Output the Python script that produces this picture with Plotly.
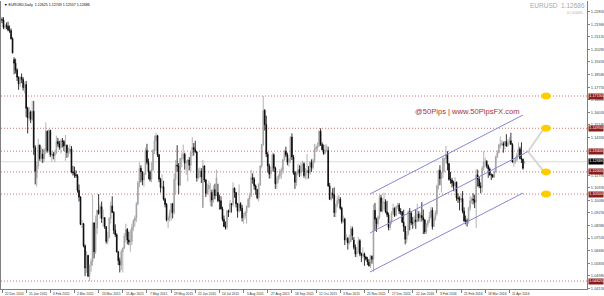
import pandas as pd
import plotly.graph_objects as go

# ---------------- data (EURUSD daily, O,H,L,C per bar) ----------------
DEC14 = [(1.2230,1.2245,1.2205,1.2226),(1.2226,1.2245,1.2165,1.2176),(1.2176,1.2200,1.2160,1.2190),
         (1.2190,1.2210,1.2165,1.2185),(1.2185,1.2215,1.2150,1.2160),(1.2160,1.2190,1.2140,1.2155),
         (1.2155,1.2170,1.2095,1.2100)]
JAN15 = [(1.2100,1.2110,1.2000,1.2005),(1.1960,1.1975,1.1860,1.1935),(1.1935,1.1965,1.1865,1.1890),
         (1.1890,1.1900,1.1815,1.1840),(1.1840,1.1845,1.1755,1.1795),(1.1795,1.1845,1.1775,1.1840),
         (1.1840,1.1865,1.1800,1.1825),(1.1825,1.1840,1.1750,1.1770),(1.1770,1.1810,1.1730,1.1790),
         (1.1790,1.1815,1.1570,1.1630),(1.1630,1.1640,1.1460,1.1565),(1.1565,1.1640,1.1545,1.1605),
         (1.1605,1.1615,1.1530,1.1555),(1.1555,1.1680,1.1545,1.1610),(1.1610,1.1680,1.1315,1.1365),
         (1.1365,1.1380,1.1115,1.1205),(1.1160,1.1270,1.1100,1.1240),(1.1240,1.1425,1.1220,1.1380),
         (1.1380,1.1385,1.1275,1.1290),(1.1290,1.1370,1.1265,1.1320),(1.1320,1.1355,1.1260,1.1290)]
FEB15 = [(1.1290,1.1360,1.1270,1.1345),(1.1345,1.1535,1.1320,1.1475),(1.1475,1.1480,1.1330,1.1345),
         (1.1345,1.1490,1.1330,1.1480),(1.1480,1.1485,1.1300,1.1315),(1.1315,1.1345,1.1270,1.1320),
         (1.1320,1.1335,1.1285,1.1310),(1.1310,1.1350,1.1265,1.1330),(1.1330,1.1445,1.1320,1.1405),
         (1.1405,1.1430,1.1370,1.1390),(1.1390,1.1410,1.1350,1.1365),(1.1365,1.1420,1.1325,1.1410),
         (1.1410,1.1430,1.1365,1.1405),(1.1405,1.1415,1.1340,1.1375),(1.1375,1.1450,1.1275,1.1380),
         (1.1380,1.1385,1.1295,1.1330),(1.1330,1.1365,1.1300,1.1340),(1.1340,1.1385,1.1320,1.1355),
         (1.1355,1.1375,1.1190,1.1200),(1.1200,1.1240,1.1175,1.1195)]
MAR15 = [(1.1195,1.1235,1.1160,1.1180),(1.1180,1.1210,1.1160,1.1175),(1.1175,1.1185,1.1060,1.1075),
         (1.1075,1.1115,1.1000,1.1030),(1.1030,1.1035,1.0840,1.0845),(1.0845,1.0875,1.0820,1.0850),
         (1.0850,1.0855,1.0690,1.0700),(1.0700,1.0710,1.0495,1.0550),(1.0550,1.0665,1.0515,1.0635),
         (1.0635,1.0640,1.0490,1.0495),(1.0495,1.0570,1.0462,1.0570),(1.0570,1.0615,1.0525,1.0595),
         (1.0595,1.1045,1.0565,1.0855),(1.0855,1.0860,1.0615,1.0660),(1.0660,1.0905,1.0645,1.0820),
         (1.0820,1.0945,1.0780,1.0940),(1.0940,1.1050,1.0910,1.0920),(1.0920,1.0985,1.0885,1.0965),
         (1.0965,1.1000,1.0855,1.0885),(1.0885,1.0945,1.0830,1.0890),(1.0890,1.0895,1.0815,1.0830),
         (1.0830,1.0830,1.0715,1.0730)]
APR15 = [(1.0730,1.0795,1.0710,1.0760),(1.0760,1.0895,1.0750,1.0885),(1.0885,1.1000,1.0850,1.0970),
         (1.0970,1.1035,1.0925,1.0925),(1.0925,1.0935,1.0780,1.0805),(1.0805,1.0845,1.0760,1.0775),
         (1.0775,1.0785,1.0655,1.0660),(1.0660,1.0665,1.0570,1.0600),(1.0600,1.0620,1.0520,1.0570),
         (1.0570,1.0675,1.0535,1.0660),(1.0660,1.0690,1.0520,1.0685),(1.0685,1.0785,1.0680,1.0765),
         (1.0765,1.0850,1.0725,1.0810),(1.0810,1.0820,1.0710,1.0740),(1.0740,1.0795,1.0705,1.0725),
         (1.0725,1.0810,1.0660,1.0730),(1.0730,1.0850,1.0705,1.0825),(1.0825,1.0880,1.0800,1.0870),
         (1.0870,1.0905,1.0830,1.0890),(1.0890,1.0995,1.0860,1.0985),(1.0985,1.1140,1.0975,1.1125),
         (1.1125,1.1265,1.1095,1.1225)]
MAY15 = [(1.1225,1.1245,1.1130,1.1200),(1.1200,1.1205,1.1110,1.1145),(1.1145,1.1200,1.1100,1.1185),
         (1.1185,1.1365,1.1180,1.1345),(1.1345,1.1390,1.1250,1.1265),(1.1265,1.1290,1.1150,1.1200),
         (1.1200,1.1210,1.1135,1.1150),(1.1150,1.1265,1.1130,1.1215),(1.1215,1.1355,1.1205,1.1345),
         (1.1345,1.1445,1.1320,1.1410),(1.1410,1.1465,1.1340,1.1445),(1.1445,1.1450,1.1300,1.1315),
         (1.1315,1.1320,1.1130,1.1150),(1.1150,1.1160,1.1060,1.1095),(1.1095,1.1185,1.1085,1.1100),
         (1.1100,1.1140,1.1005,1.1015),(1.1015,1.1025,1.0960,1.0980),(1.0980,1.0990,1.0865,1.0875),
         (1.0875,1.0905,1.0820,1.0890),(1.0890,1.0945,1.0865,1.0920),(1.0920,1.0985,1.0870,1.0985)]
JUN15 = [(1.0985,1.0990,1.0885,1.0925),(1.0925,1.1190,1.0910,1.1150),(1.1150,1.1280,1.1050,1.1245),
         (1.1245,1.1380,1.1200,1.1240),(1.1240,1.1260,1.1050,1.1110),(1.1110,1.1295,1.1105,1.1290),
         (1.1290,1.1330,1.1230,1.1290),(1.1290,1.1385,1.1275,1.1320),(1.1320,1.1330,1.1215,1.1260),
         (1.1260,1.1280,1.1180,1.1265),(1.1265,1.1285,1.1135,1.1280),(1.1280,1.1300,1.1210,1.1245),
         (1.1245,1.1335,1.1205,1.1330),(1.1330,1.1435,1.1305,1.1365),(1.1365,1.1395,1.1310,1.1350),
         (1.1350,1.1410,1.1330,1.1335),(1.1335,1.1340,1.1135,1.1160),(1.1160,1.1225,1.1150,1.1200),
         (1.1200,1.1230,1.1160,1.1205),(1.1205,1.1225,1.1125,1.1165),(1.0960,1.1280,1.0955,1.1240),
         (1.1240,1.1245,1.1130,1.1145)]
JUL15 = [(1.1145,1.1150,1.1030,1.1055),(1.1055,1.1120,1.1045,1.1085),(1.1085,1.1140,1.1060,1.1110),
         (1.1000,1.1125,1.0970,1.1060),(1.1060,1.1080,1.0965,1.1010),(1.1010,1.1110,1.0990,1.1080),
         (1.1080,1.1120,1.1015,1.1040),(1.1040,1.1215,1.1035,1.1160),(1.1060,1.1120,1.0995,1.1005),
         (1.1005,1.1045,1.0945,1.1005),(1.1005,1.1035,1.0945,1.0950),(1.0950,1.0965,1.0865,1.0880),
         (1.0880,1.0905,1.0830,1.0830),(1.0830,1.0865,1.0810,1.0825),(1.0825,1.0945,1.0810,1.0935),
         (1.0935,1.0945,1.0895,1.0930),(1.0930,1.1010,1.0920,1.0985),(1.0985,1.0990,1.0925,1.0980),
         (1.0980,1.1130,1.0965,1.1090),(1.1090,1.1095,1.1025,1.1060),(1.1060,1.1065,1.0960,1.0985),
         (1.0985,1.0990,1.0890,1.0935),(1.0935,1.1115,1.0925,1.0985)]
AUG15 = [(1.0985,1.0995,1.0935,1.0955),(1.0955,1.0975,1.0865,1.0890),(1.0890,1.0925,1.0850,1.0905),
         (1.0905,1.0935,1.0880,1.0925),(1.0925,1.0975,1.0850,1.0965),(1.0965,1.1025,1.0955,1.1015),
         (1.1015,1.1060,1.0960,1.1040),(1.1040,1.1215,1.1030,1.1160),(1.1160,1.1190,1.1120,1.1150),
         (1.1150,1.1165,1.1080,1.1105),(1.1105,1.1115,1.1045,1.1080),(1.1080,1.1085,1.1015,1.1025),
         (1.1025,1.1125,1.1000,1.1115),(1.1115,1.1245,1.1105,1.1240),(1.1240,1.1390,1.1225,1.1385),
         (1.1385,1.1713,1.1375,1.1615),(1.1615,1.1625,1.1480,1.1520),(1.1520,1.1580,1.1300,1.1320),
         (1.1320,1.1335,1.1195,1.1240),(1.1240,1.1255,1.1155,1.1185),(1.1185,1.1235,1.1155,1.1210)]
SEP15 = [(1.1210,1.1330,1.1200,1.1315),(1.1315,1.1325,1.1200,1.1225),(1.1225,1.1235,1.1085,1.1120),
         (1.1120,1.1170,1.1085,1.1150),(1.1150,1.1185,1.1125,1.1170),(1.1170,1.1220,1.1150,1.1205),
         (1.1205,1.1230,1.1155,1.1210),(1.1210,1.1290,1.1185,1.1280),(1.1280,1.1350,1.1275,1.1340),
         (1.1340,1.1370,1.1300,1.1315),(1.1315,1.1330,1.1245,1.1265),(1.1265,1.1295,1.1235,1.1285),
         (1.1285,1.1440,1.1260,1.1435),(1.1435,1.1460,1.1280,1.1300),(1.1300,1.1315,1.1180,1.1195),
         (1.1195,1.1205,1.1085,1.1130),(1.1130,1.1205,1.1105,1.1185),(1.1185,1.1255,1.1175,1.1215),
         (1.1215,1.1245,1.1165,1.1195),(1.1195,1.1265,1.1170,1.1240),(1.1240,1.1275,1.1200,1.1255),
         (1.1255,1.1265,1.1160,1.1175)]
OCT15 = [(1.1175,1.1225,1.1150,1.1195),(1.1195,1.1320,1.1150,1.1210),(1.1210,1.1240,1.1155,1.1195),
         (1.1195,1.1275,1.1180,1.1265),(1.1265,1.1285,1.1200,1.1230),(1.1230,1.1290,1.1215,1.1275),
         (1.1275,1.1390,1.1260,1.1355),(1.1355,1.1385,1.1335,1.1365),(1.1365,1.1400,1.1340,1.1375),
         (1.1375,1.1480,1.1370,1.1475),(1.1475,1.1495,1.1375,1.1385),(1.1385,1.1400,1.1345,1.1350),
         (1.1350,1.1385,1.1315,1.1325),(1.1325,1.1385,1.1320,1.1345),(1.1345,1.1385,1.1335,1.1345),
         (1.1345,1.1370,1.1100,1.1105),(1.1105,1.1125,1.1010,1.1015),(1.1015,1.1065,1.1005,1.1055),
         (1.1055,1.1090,1.1020,1.1045),(1.1045,1.1095,1.0895,1.0925),(1.0925,1.0985,1.0895,1.0975),
         (1.0975,1.1035,1.0960,1.1005)]
NOV15 = [(1.1005,1.1045,1.0985,1.1015),(1.1015,1.1030,1.0945,1.0955),(1.0955,1.0965,1.0850,1.0865),
         (1.0865,1.0905,1.0855,1.0880),(1.0880,1.0890,1.0705,1.0740),(1.0740,1.0780,1.0725,1.0750),
         (1.0750,1.0760,1.0675,1.0720),(1.0720,1.0775,1.0710,1.0730),(1.0730,1.0835,1.0725,1.0815),
         (1.0815,1.0830,1.0740,1.0770),(1.0740,1.0760,1.0675,1.0690),(1.0690,1.0710,1.0625,1.0645),
         (1.0645,1.0690,1.0620,1.0660),(1.0660,1.0760,1.0650,1.0735),(1.0735,1.0745,1.0630,1.0645),
         (1.0645,1.0655,1.0590,1.0635),(1.0635,1.0690,1.0615,1.0645),(1.0645,1.0655,1.0565,1.0625),
         (1.0625,1.0630,1.0600,1.0610),(1.0610,1.0625,1.0570,1.0590),(1.0590,1.0610,1.0560,1.0565)]
DEC15 = [(1.0565,1.0640,1.0550,1.0630),(1.0630,1.0635,1.0580,1.0610),(1.0610,1.0980,1.0525,1.0940),
         (1.0940,1.0990,1.0800,1.0880),(1.0880,1.0890,1.0795,1.0850),(1.0850,1.0905,1.0825,1.0895),
         (1.0895,1.1045,1.0880,1.1025),(1.1025,1.1045,1.0930,1.0935),(1.0935,1.1025,1.0925,1.0990),
         (1.0990,1.1060,1.0945,1.0995),(1.0995,1.1015,1.0920,1.0930),(1.0930,1.1005,1.0895,1.0910),
         (1.0910,1.0925,1.0805,1.0825),(1.0825,1.0875,1.0805,1.0865),(1.0865,1.0935,1.0845,1.0920),
         (1.0920,1.0985,1.0910,1.0955),(1.0955,1.0960,1.0895,1.0905),(1.0905,1.0970,1.0900,1.0965),
         (1.0965,1.0990,1.0950,1.0975),(1.0975,1.0990,1.0915,1.0935),(1.0935,1.0955,1.0910,1.0930),
         (1.0930,1.0935,1.0855,1.0860)]
JAN16 = [(1.0860,1.0945,1.0795,1.0830),(1.0830,1.0835,1.0710,1.0745),(1.0745,1.0800,1.0720,1.0780),
         (1.0780,1.0940,1.0770,1.0930),(1.0930,1.0955,1.0805,1.0920),(1.0920,1.0935,1.0840,1.0855),
         (1.0855,1.0895,1.0815,1.0855),(1.0855,1.0905,1.0835,1.0875),(1.0875,1.0945,1.0815,1.0865),
         (1.0865,1.0985,1.0860,1.0915),(1.0915,1.0935,1.0865,1.0890),(1.0890,1.0925,1.0860,1.0905),
         (1.0905,1.0995,1.0865,1.0890),(1.0890,1.0945,1.0780,1.0875),(1.0875,1.0880,1.0780,1.0795),
         (1.0795,1.0855,1.0780,1.0845),(1.0845,1.0875,1.0825,1.0870),(1.0870,1.0930,1.0855,1.0895),
         (1.0895,1.0965,1.0885,1.0940),(1.0940,1.0960,1.0810,1.0830)]
FEB16 = [(1.0830,1.0905,1.0830,1.0885),(1.0885,1.0940,1.0870,1.0920),(1.0920,1.1115,1.0905,1.1105),
         (1.1105,1.1215,1.1080,1.1210),(1.1210,1.1245,1.1110,1.1155),(1.1155,1.1200,1.1060,1.1195),
         (1.1195,1.1305,1.1160,1.1290),(1.1290,1.1295,1.1200,1.1290),(1.1290,1.1376,1.1260,1.1320),
         (1.1320,1.1340,1.1210,1.1255),(1.1255,1.1260,1.1140,1.1150),(1.1150,1.1200,1.1120,1.1145),
         (1.1145,1.1160,1.1095,1.1125),(1.1125,1.1140,1.1070,1.1105),(1.1105,1.1165,1.1065,1.1130),
         (1.1130,1.1135,1.1005,1.1025),(1.1025,1.1055,1.0990,1.1020),(1.1020,1.1035,1.0940,1.1010),
         (1.1010,1.1050,1.0995,1.1020),(1.1020,1.1070,1.0920,1.0935),(1.0935,1.0960,1.0860,1.0870)]
MAR16 = [(1.0870,1.0905,1.0845,1.0870),(1.0870,1.0885,1.0830,1.0865),(1.0865,1.0965,1.0850,1.0955),
         (1.0955,1.1040,1.0935,1.1005),(1.1005,1.1030,1.0985,1.1015),(1.1015,1.1055,1.0980,1.1010),
         (1.1010,1.1045,1.0955,1.0995),(1.0995,1.1220,1.0822,1.1180),(1.1180,1.1215,1.1100,1.1150),
         (1.1150,1.1170,1.1090,1.1105),(1.1105,1.1130,1.1055,1.1095),(1.1095,1.1240,1.1060,1.1225),
         (1.1225,1.1340,1.1210,1.1265),(1.1265,1.1295,1.1235,1.1270),(1.1270,1.1280,1.1225,1.1240),
         (1.1240,1.1250,1.1160,1.1220),(1.1220,1.1230,1.1175,1.1180),(1.1180,1.1190,1.1145,1.1180),
         (1.1180,1.1185,1.1160,1.1165),(1.1165,1.1210,1.1160,1.1200),(1.1200,1.1310,1.1195,1.1300),
         (1.1300,1.1345,1.1295,1.1330),(1.1330,1.1390,1.1325,1.1380)]
APR16 = [(1.1380,1.1440,1.1360,1.1390),(1.1390,1.1415,1.1375,1.1390),(1.1390,1.1405,1.1330,1.1380),
         (1.1380,1.1410,1.1350,1.1405),(1.1405,1.1455,1.1370,1.1375),(1.1375,1.1420,1.1370,1.1395),
         (1.1395,1.1435,1.1385,1.1410),(1.1410,1.1465,1.1385,1.1385),(1.1385,1.1395,1.1265,1.1265),
         (1.1265,1.1290,1.1235,1.1270),(1.1270,1.1300,1.1255,1.1285),(1.1285,1.1330,1.1270,1.1315),
         (1.1315,1.1400,1.1305,1.1355),(1.1355,1.1370,1.1285,1.1290),(1.1290,1.1400,1.1260,1.1285),
         (1.1285,1.1290,1.1215,1.1225),(1.12625,1.12749,1.12557,1.12686)]

HOLIDAYS = ["2014-12-25", "2015-01-01", "2015-12-25", "2016-01-01"]
FIRST_DAY, LAST_DAY = "2014-12-22", "2016-04-25"

# horizontal levels drawn on the chart
LEVELS = [1.17130, 1.14950, 1.13400, 1.12000, 1.10500, 1.04620]
MARKED_LEVELS = [1.17130, 1.14950, 1.12000, 1.10500]
BID = 1.12686
# price-scale labels visible in the reference (ones hidden under level labels omitted)
Y_TICKS = [1.22830, 1.21980, 1.21130, 1.20280, 1.19430, 1.18580, 1.17730, 1.16880,
           1.16030, 1.15180, 1.14330, 1.11780, 1.10930, 1.10080,
           1.09230, 1.08380, 1.07530, 1.06680, 1.05830, 1.04980, 1.04130]
# trend channel (bar position, price)
CH_UPPER = [(243.7, 1.10505), (345.0, 1.15846)]
CH_MIDDLE = [(243.7, 1.07869), (348.3, 1.13378)]
CH_LOWER = [(243.7, 1.05232), (345.0, 1.10573)]
PROJ_FROM = (348.3, 1.13378)
PROJ_TO = [(359.0, 1.14950), (359.0, 1.12000)]
MARK_BAR = 360.3

HEADER = "\u25bc EURUSD,Daily  1.12625 1.12749 1.12557 1.12686"
SYMBOL = "EURUSD  1.12686"
CHANGE = "0 | 0.00%"
WATERMARK = "@50Pips | www.50PipsFX.com"

# ---------------- build ----------------
bars = DEC14 + JAN15 + FEB15 + MAR15 + APR15 + MAY15 + JUN15 + JUL15 + AUG15 + SEP15 + \
       OCT15 + NOV15 + DEC15 + JAN16 + FEB16 + MAR16 + APR16
days = [d for d in pd.bdate_range(FIRST_DAY, LAST_DAY) if d.strftime("%Y-%m-%d") not in HOLIDAYS]
days = days[:len(bars)]
dates = [f"{d.day} {d.strftime('%b %Y')}" for d in days]
n = min(len(dates), len(bars))
dates, bars = dates[:n], bars[:n]
o = [b[0] for b in bars]; h = [b[1] for b in bars]; l = [b[2] for b in bars]; c = [b[3] for b in bars]

FONT = "Liberation Sans, Arial, sans-serif"
fig = go.Figure()
fig.add_trace(go.Candlestick(
    x=dates, open=o, high=h, low=l, close=c, whiskerwidth=0,
    increasing=dict(line=dict(color="#a0a0a0", width=0.8), fillcolor="#a0a0a0"),
    decreasing=dict(line=dict(color="#000000", width=0.8), fillcolor="#000000"),
    showlegend=False, hoverinfo="skip"))

shapes = []
for v in LEVELS:
    shapes.append(dict(type="line", xref="paper", yref="y", x0=0, x1=1, y0=v, y1=v,
                       line=dict(color="#cc7070", width=1, dash="1px,2px"), layer="below"))
shapes.append(dict(type="line", xref="paper", yref="y", x0=0, x1=1, y0=BID, y1=BID,
                   line=dict(color="#dadada", width=1), layer="below"))
for seg in (CH_UPPER, CH_MIDDLE, CH_LOWER):
    shapes.append(dict(type="line", xref="x", yref="y", x0=seg[0][0], y0=seg[0][1],
                       x1=seg[1][0], y1=seg[1][1], line=dict(color="#8585dc", width=1)))
for end in PROJ_TO:
    shapes.append(dict(type="line", xref="x", yref="y", x0=PROJ_FROM[0], y0=PROJ_FROM[1],
                       x1=end[0], y1=end[1], line=dict(color="#d6d6d6", width=2)))
for v in MARKED_LEVELS:
    shapes.append(dict(type="circle", xref="x", yref="y", xsizemode="pixel", ysizemode="pixel",
                       xanchor=MARK_BAR, yanchor=v, x0=-5, x1=5, y0=-3.5, y1=3.5,
                       fillcolor="#ffcc00", line=dict(width=0)))

ann = []
for d in dates[::16]:
    ann.append(dict(x=d, y=0, xref="x", yref="paper", xanchor="left", yanchor="top",
                    xshift=1, yshift=-1, text=d, showarrow=False,
                    font=dict(size=3.3, color="#333333", family=FONT)))
for v in LEVELS:
    ann.append(dict(x=1, y=v, xref="paper", yref="y", xanchor="left", yanchor="middle",
                    xshift=1, text=f"{v:.5f}", showarrow=False, bgcolor="#8b1d1d",
                    borderpad=0.3, font=dict(size=3.8, color="#ffffff", family=FONT)))
ann.append(dict(x=1, y=BID, xref="paper", yref="y", xanchor="left", yanchor="middle",
                xshift=1, text=f"{BID:.5f}", showarrow=False, bgcolor="#000000",
                borderpad=0.3, font=dict(size=3.8, color="#ffffff", family=FONT)))
ann.append(dict(x=0, y=1, xref="paper", yref="paper", xanchor="left", yanchor="middle",
                xshift=1, yshift=-3.5, text=HEADER, showarrow=False,
                font=dict(size=3.6, color="#000000", family=FONT)))
ann.append(dict(x=1, y=1, xref="paper", yref="paper", xanchor="right", yanchor="middle",
                xshift=0, yshift=-4, text=SYMBOL, showarrow=False,
                font=dict(size=6.5, color="#a8a8a8", family=FONT)))
ann.append(dict(x=1, y=1, xref="paper", yref="paper", xanchor="right", yanchor="middle",
                xshift=-1, yshift=-11.5, text=CHANGE, showarrow=False,
                font=dict(size=3.8, color="#a8a8a8", family=FONT)))
ann.append(dict(x=0.796, y=0.618, xref="paper", yref="paper", xanchor="center", yanchor="middle",
                text=WATERMARK, showarrow=False,
                font=dict(size=7.6, color="#a93232", family=FONT)))

fig.update_layout(
    width=604, height=296, margin=dict(l=1, r=17, t=1, b=7, autoexpand=False),
    paper_bgcolor="white", plot_bgcolor="white",
    shapes=shapes, annotations=ann, showlegend=False,
    xaxis=dict(type="category", range=[-0.66, 387.4], rangeslider=dict(visible=False),
               showgrid=False, zeroline=False, tickvals=dates[::16], showticklabels=False,
               ticks="outside", ticklen=3, tickcolor="#808080", tickwidth=1,
               showline=True, linecolor="#808080", linewidth=1, fixedrange=True),
    yaxis=dict(side="right", range=[1.04083, 1.23552], showgrid=False, zeroline=False,
               tickvals=Y_TICKS, ticktext=[f"{v:.5f}" for v in Y_TICKS],
               ticks="outside", ticklen=2, tickcolor="#808080",
               tickfont=dict(size=4, color="#444444", family=FONT),
               showline=True, mirror=True, linecolor="#808080", linewidth=1, automargin=False),
)
fig.write_html("out.html")
